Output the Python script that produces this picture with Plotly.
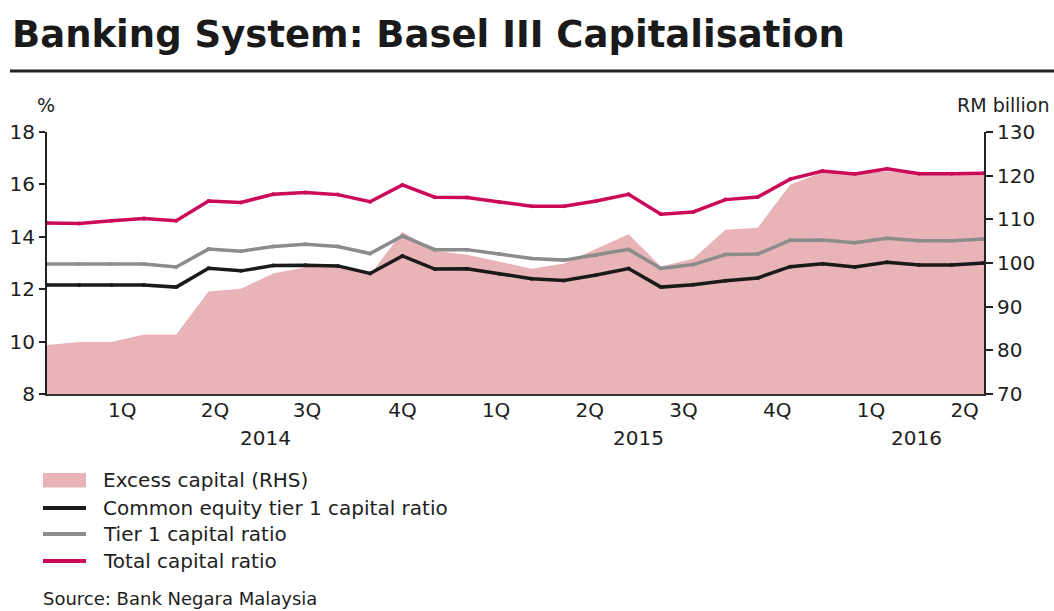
import plotly.graph_objects as go

# ---- data (monthly, Jan 2014 - Jun 2016) ----
months = list(range(30))
excess_capital = [81.2, 81.9, 81.9, 83.6, 83.6, 93.5, 94.1, 97.6, 99.0, 99.5,
                  97.3, 107.1, 102.8, 101.9, 100.3, 98.7, 99.9, 103.3, 106.6, 99.2,
                  101.0, 107.6, 108.1, 117.9, 120.8, 120.5, 121.0, 120.4, 120.4, 120.4]
cet1_ratio = [12.16, 12.16, 12.16, 12.16, 12.08, 12.80, 12.70, 12.90, 12.91, 12.89,
              12.60, 13.27, 12.77, 12.78, 12.59, 12.40, 12.33, 12.54, 12.79, 12.08,
              12.17, 12.32, 12.43, 12.86, 12.97, 12.85, 13.03, 12.92, 12.92, 13.00]
tier1_ratio = [12.96, 12.96, 12.96, 12.96, 12.85, 13.53, 13.45, 13.63, 13.72, 13.63,
               13.36, 14.03, 13.51, 13.51, 13.34, 13.17, 13.11, 13.30, 13.52, 12.79,
               12.94, 13.32, 13.34, 13.87, 13.88, 13.77, 13.94, 13.85, 13.85, 13.92]
total_ratio = [14.53, 14.51, 14.61, 14.70, 14.61, 15.37, 15.31, 15.62, 15.69, 15.61,
               15.34, 15.98, 15.51, 15.50, 15.33, 15.17, 15.17, 15.37, 15.62, 14.86,
               14.95, 15.42, 15.52, 16.20, 16.51, 16.40, 16.60, 16.41, 16.41, 16.43]

series_names = ["Excess capital (RHS)", "Common equity tier 1 capital ratio",
                "Tier 1 capital ratio", "Total capital ratio"]
quarter_labels = ["1Q", "2Q", "3Q", "4Q", "1Q", "2Q", "3Q", "4Q", "1Q", "2Q"]
year_labels = ["2014", "2015", "2016"]

# ---- styling / layout positions ----
quarter_tick_pos = [2.33, 5.2, 8.05, 11.0, 13.9, 16.8, 19.7, 22.6, 25.5, 28.4]
year_label_pos = [6.75, 18.3, 26.9]
AREA_C = "#e8b4b7"
CET1_C = "#1a1a1a"
T1_C = "#8c8c8c"
TOT_C = "#cc0a5a"

FONT = "DejaVu Sans, Liberation Sans, Arial, sans-serif"
TXT = "#1e1e1e"

fig = go.Figure()
fig.add_trace(go.Scatter(x=months, y=excess_capital, name=series_names[0],
                         mode="lines", fill="tozeroy", fillcolor=AREA_C,
                         line=dict(width=0, color=AREA_C), yaxis="y",
                         showlegend=False))
for vals, name, col in [(cet1_ratio, series_names[1], CET1_C),
                        (tier1_ratio, series_names[2], T1_C),
                        (total_ratio, series_names[3], TOT_C)]:
    fig.add_trace(go.Scatter(x=months, y=vals, name=name, mode="lines+markers",
                             line=dict(color=col, width=3.5),
                             marker=dict(size=4, color=col), yaxis="y2",
                             showlegend=False))

W, H = 1054, 611
L, R, T, B = 47, 70, 132, 217
pw, ph = W - L - R, H - T - B


def px_x(px):
    return (px - L) / pw


def px_y(py):
    return (H - B - py) / ph


annotations = [
    dict(text="%", x=px_x(46), y=px_y(105), xref="paper", yref="paper",
         xanchor="center", yanchor="middle", showarrow=False,
         font=dict(family=FONT, size=19, color=TXT)),
    dict(text="RM billion", x=px_x(1051), y=px_y(105), xref="paper", yref="paper",
         xanchor="right", yanchor="middle", showarrow=False,
         font=dict(family=FONT, size=19, color=TXT)),
    dict(text="Source: Bank Negara Malaysia", x=px_x(41), y=px_y(598), xref="paper",
         yref="paper", xanchor="left", yanchor="middle", showarrow=False,
         font=dict(family=FONT, size=18, color=TXT)),
]
for lab, pos in zip(year_labels, year_label_pos):
    annotations.append(dict(text=lab, x=pos, y=px_y(438), xref="x", yref="paper",
                            xanchor="center", yanchor="middle", showarrow=False,
                            font=dict(family=FONT, size=20, color=TXT)))

# manual legend
shapes = [dict(type="line", xref="paper", yref="paper",
               x0=px_x(10), x1=px_x(1054), y0=px_y(71), y1=px_y(71),
               line=dict(color="#222", width=3))]
legend_rows = [480, 508, 534, 561]
shapes.append(dict(type="rect", xref="paper", yref="paper",
                   x0=px_x(43), x1=px_x(86), y0=px_y(473), y1=px_y(487.5),
                   fillcolor=AREA_C, line=dict(width=0)))
for row, col in zip(legend_rows[1:], [CET1_C, T1_C, TOT_C]):
    shapes.append(dict(type="line", xref="paper", yref="paper",
                       x0=px_x(43), x1=px_x(86), y0=px_y(row), y1=px_y(row),
                       line=dict(color=col, width=4)))
for row, name in zip(legend_rows, series_names):
    annotations.append(dict(text=name, x=px_x(101), y=px_y(row), xref="paper",
                            yref="paper", xanchor="left", yanchor="middle",
                            showarrow=False,
                            font=dict(family=FONT, size=20, color=TXT)))

fig.update_layout(
    width=W, height=H,
    margin=dict(l=L, r=R, t=T, b=B, autoexpand=False),
    paper_bgcolor="white", plot_bgcolor="white",
    font=dict(family=FONT, size=20, color=TXT),
    title=dict(text="<b>Banking System: Basel III Capitalisation</b>",
               x=12 / W, xanchor="left", xref="container",
               y=1 - 34 / H, yanchor="middle", yref="container",
               font=dict(family="DejaVu Sans, Arial, sans-serif", size=37,
                         color="#1a1a1a")),
    xaxis=dict(range=[0, 29], tickvals=quarter_tick_pos, ticktext=quarter_labels,
               showgrid=False, zeroline=False, showline=True, linecolor="#333",
               linewidth=2, ticks="", ticklabelstandoff=-3,
               tickfont=dict(family=FONT, size=20, color=TXT)),
    yaxis=dict(range=[70, 130], tickvals=[70, 80, 90, 100, 110, 120, 130],
               side="right", showgrid=False, zeroline=False, showline=True,
               linecolor="#222", linewidth=2, ticks="outside", ticklen=7,
               tickwidth=2, tickcolor="#222",
               tickfont=dict(family=FONT, size=20, color=TXT)),
    yaxis2=dict(range=[8, 18], tickvals=[8, 10, 12, 14, 16, 18], side="left",
                overlaying="y", showgrid=False, zeroline=False, showline=True,
                linecolor="#222", linewidth=2, ticks="outside", ticklen=6,
                tickwidth=2, tickcolor="#222",
                tickfont=dict(family=FONT, size=20, color=TXT)),
    showlegend=False,
    shapes=shapes,
    annotations=annotations,
)

fig.write_html("out.html",
               config={"displayModeBar": False},
               post_script="document.body.style.margin='0px';"
                           "document.body.style.overflow='hidden';")
